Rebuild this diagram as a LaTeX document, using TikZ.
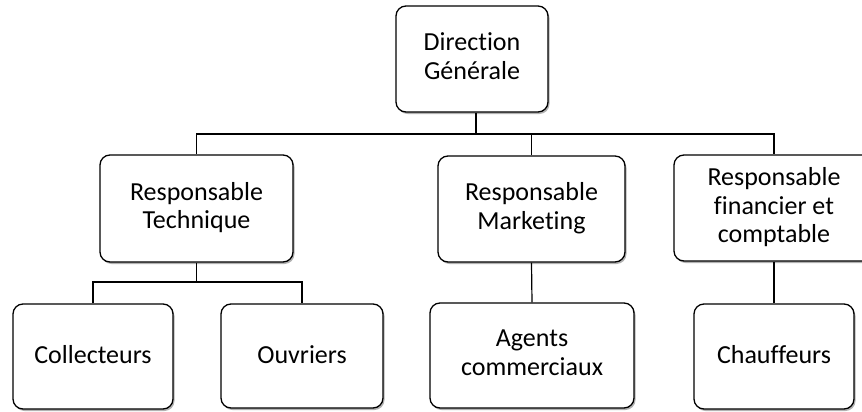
\documentclass[tikz,border=0pt]{standalone}
\usepackage{fontspec}
\setmainfont{Carlito}[Ligatures={NoCommon,NoDiscretionary,NoContextual}]
\usetikzlibrary{shadows}
\newcommand\boxstrut{\rule[-6pt]{0pt}{26pt}}
\begin{document}
\begin{tikzpicture}[x=1pt,y=-1pt,
  box/.style={draw=black, line width=1.3pt, rounded corners=10pt, fill=white,
    align=center, inner sep=2pt,
    font=\fontsize{26}{28.5}\selectfont,
    execute at begin node=\boxstrut, execute at end node=\boxstrut,
    drop shadow={shadow xshift=1.5pt, shadow yshift=-2pt, opacity=0.3, fill=black}},
  link/.style={draw=black, line width=1.2pt}]
\useasboundingbox (0,0) rectangle (862,412);
\fill[white] (0,0) rectangle (862,412);
\node[box, minimum width=152pt, minimum height=106pt] (dg) at (472,59) {Direction\\Générale};
\node[box, minimum width=193pt, minimum height=107pt] (rt) at (196.5,208.5) {Responsable\\Technique};
\node[box, minimum width=187pt, minimum height=106pt] (rm) at (531.5,209) {Responsable\\Marketing};
\node[box, minimum width=200pt, minimum height=106pt] (rf) at (774,208) {Responsable\\financier et\\comptable};
\node[box, minimum width=160pt, minimum height=105pt] (col) at (93,356.5) {Collecteurs};
\node[box, minimum width=162pt, minimum height=104pt] (ouv) at (302,356) {Ouvriers};
\node[box, minimum width=204pt, minimum height=105pt] (ag) at (532,355.5) {Agents\\commerciaux};
\node[box, minimum width=160pt, minimum height=105pt] (ch) at (774,356.5) {Chauffeurs};
\coordinate (b1) at (0,134);
\coordinate (b2) at (0,282);
\draw[link] ([xshift=4pt]dg.south) -- ([xshift=4pt]dg.south |- b1);
\draw[link] (rt.north) -- (rt.north |- b1) -- (rf.north |- b1) -- (rf.north);
\draw[link] (rm.north) -- (rm.north |- b1);
\draw[link] (rt.south) -- (rt.south |- b2);
\draw[link] (col.north) -- (col.north |- b2) -- (ouv.north |- b2) -- (ouv.north);
\draw[link] (rm.south) -- (ag.north);
\draw[link] (rf.south) -- (ch.north);
\end{tikzpicture}
\end{document}
